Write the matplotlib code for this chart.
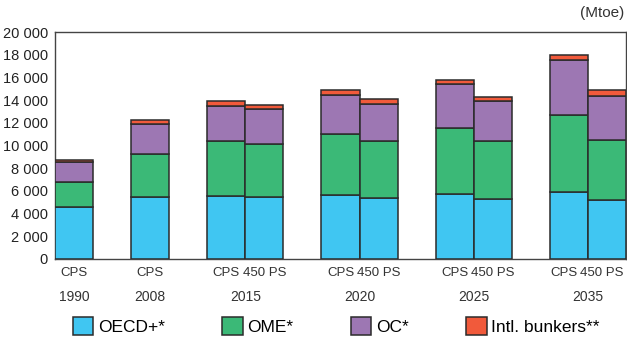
import matplotlib.pyplot as plt
import matplotlib.patches as patches
import numpy as np

plt.rcParams['font.family'] = ['Liberation Sans', 'DejaVu Sans']

# bar labels (scenario) and year groups
scenarios = ['CPS', 'CPS', 'CPS', '450 PS', 'CPS', '450 PS', 'CPS', '450 PS', 'CPS', '450 PS']
years = ['1990', '2008', '2015', '2020', '2025', '2035']

# Mtoe by region
oecd = [4550, 5460, 5550, 5430, 5610, 5345, 5730, 5255, 5930, 5200]
ome = [2200, 3790, 4820, 4730, 5400, 5025, 5810, 5140, 6755, 5255]
oc = [1770, 2640, 3110, 3055, 3435, 3315, 3850, 3525, 4815, 3935]
bunkers = [230, 355, 415, 350, 410, 385, 410, 380, 500, 470]

series = [oecd, ome, oc, bunkers]
names = ['OECD+*', 'OME*', 'OC*', 'Intl. bunkers**']
colors = ['#40C6F2', '#3BB977', '#9D77B3', '#F15A3B']

# bar centres in units of bar width
xs = np.array([0.5, 2.5, 4.5, 5.5, 7.5, 8.5, 10.5, 11.5, 13.5, 14.5])
group_x = [0.5, 2.5, 5.0, 8.0, 11.0, 14.0]

fig = plt.figure(figsize=(6.27, 3.38), dpi=100)
ax = fig.add_axes([55/627, 79/338, 571/627, 227/338])

bottom = np.zeros(len(xs))
for vals, col in zip(series, colors):
    ax.bar(xs, vals, width=1.0, bottom=bottom, color=col,
           edgecolor='#2b2b2b', linewidth=1.1, zorder=3)
    bottom += np.array(vals)

ax.set_xlim(0, 15)
ax.set_ylim(0, 20000)
ax.set_yticks(np.arange(0, 20001, 2000))
ax.set_yticklabels([f'{v:,}'.replace(',', ' ') for v in range(0, 20001, 2000)])
ax.tick_params(axis='y', length=0, labelsize=10.5, colors='#222222', pad=5)
ax.set_xticks([])
for s in ax.spines.values():
    s.set_color('#444444')
    s.set_linewidth(1.0)

# two-line category labels under the axis
n = len(xs)
for i, (x, lab) in enumerate(zip(xs, scenarios)):
    if i == n - 1:
        # last label sits at the figure edge, keep it inside
        ax.text(14.93, -700, lab, ha='right', va='top', fontsize=9.5, color='#333333')
    elif i == n - 2:
        ax.text(x - 0.12, -700, lab, ha='center', va='top', fontsize=9.5, color='#333333')
    else:
        ax.text(x, -700, lab, ha='center', va='top', fontsize=9.5, color='#333333')
for x, lab in zip(group_x, years):
    ax.text(x, -2750, lab, ha='center', va='top', fontsize=10, color='#333333')

fig.text(624/627, 1 - 13/338, '(Mtoe)', ha='right', va='center',
         fontsize=11, color='#333333')

handles = [patches.Patch(facecolor=c, edgecolor='#2b2b2b', linewidth=1.1) for c in colors]
fig.legend(handles, names, loc='center', bbox_to_anchor=(336/627, 12/338),
           ncol=4, frameon=False, fontsize=12.5, handlelength=1.2, handleheight=1.2,
           handletextpad=0.25, columnspacing=3.3, borderaxespad=0)

fig.savefig('out.png', dpi=100)
